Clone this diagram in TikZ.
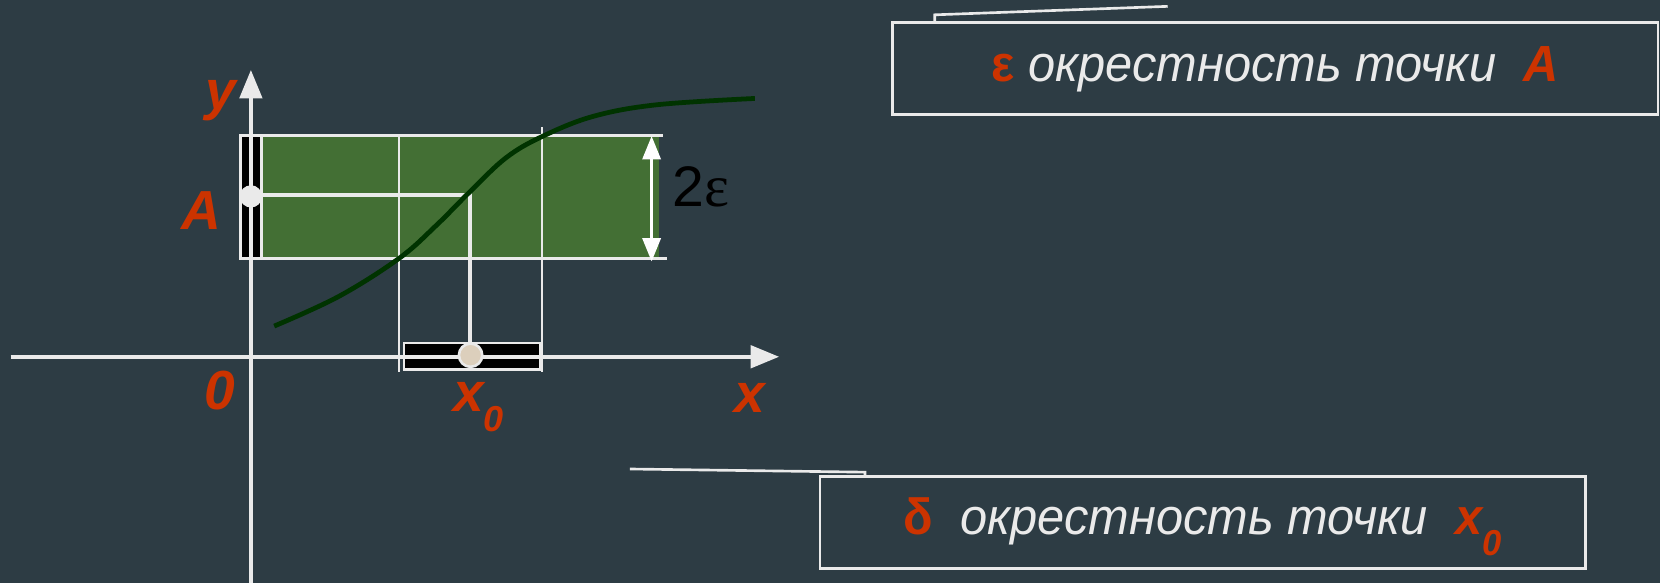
\documentclass[tikz,border=0pt]{standalone}
\usepackage{fontspec}
\setmainfont{Liberation Sans}
\newfontfamily\serifgr{Liberation Serif}
\newfontfamily\narrowit[FakeStretch=0.96]{Liberation Sans}
\usetikzlibrary{arrows.meta}
\definecolor{bg}{HTML}{2D3C44}
\definecolor{grn}{HTML}{436F34}
\definecolor{crv}{HTML}{003300}
\definecolor{lt}{HTML}{EAEAEA}
\definecolor{red}{HTML}{CC3300}
\definecolor{dotc}{HTML}{DCCFBC}
\tikzset{
  wline/.style={draw=lt, line width=2.5pt},
  axis/.style={draw=lt, line width=4pt, -{Triangle[length=27pt,width=21pt]}},
  lbl/.style={text=red, font=\fontsize{52}{54}\selectfont\bfseries\itshape, inner sep=0pt, anchor=base},
  callout/.style={draw=lt, line width=2.5pt, minimum width=723pt, minimum height=87pt, inner sep=0pt,
     font=\narrowit\fontsize{48}{50}\selectfont\itshape, text=lt},
  lead/.style={draw=lt, line width=2.5pt},
}
\begin{document}
\begin{tikzpicture}[x=1pt,y=-1pt]
\fill[bg] (0,0) rectangle (1568,551);
\useasboundingbox (0,0) rectangle (1568,551);
% green band
\fill[grn] (246,128) rectangle (622,244);
% black bar on y axis
\draw[wline, fill=black] (227,128) rectangle (247,244);
\draw[wline] (244,128) -- (626,128);
\draw[wline] (244,244) -- (630,244);
% vertical delta lines
\draw[wline] (377,128) -- (377,351);
\draw[wline] (512,120) -- (512,351);
% black bar on x axis
\draw[wline, fill=black] (381.5,324) rectangle (510,349);
% axes
\coordinate (xs) at (10,337);
\coordinate (xe) at (736,337);
\coordinate (ys) at (237,551);
\coordinate (ye) at (237,66);
\draw[axis] (xs) -- (xe);
\draw[axis] (ys) -- (ye);
% projection lines
\coordinate (pa) at (237,184);
\coordinate (pc) at (440,184);
\coordinate (pt) at (444,181);
\coordinate (px) at (444,336);
\draw[draw=lt, line width=3.8pt] (pa) -- (pc);
\draw[draw=lt, line width=3.8pt] (pt) -- (px);
% curve
\draw[crv, line width=4.5pt] plot[smooth, tension=0.6] coordinates {(259,308) (320,280) (377,244) (412,213) (444,181) (478,149) (512,129) (560,110) (620,99) (713,93)};
% dots
\node[circle, fill=lt, minimum size=21pt, inner sep=0pt] (dA) at (237,185.5) {};
\node[circle, fill=dotc, draw=lt, line width=2.5pt, minimum size=22pt, inner sep=0pt] (dX) at (444.5,335.5) {};
% double arrow 2eps
\coordinate (da1) at (615.5,128.5);
\coordinate (da2) at (615.5,247);
\draw[draw=white, line width=3pt, {Triangle[length=22pt,width=17pt]}-{Triangle[length=22pt,width=17pt]}] (da1) -- (da2);
\node[anchor=base west, inner sep=0pt, font=\fontsize{54}{56}\selectfont] (eps2) at (635,195) {2{\serifgr\fontsize{56}{58}\selectfont ε}};
% labels
\node[lbl] (ly) at (209,103) {y};
\node[lbl] (lA) at (190.5,216.5) {A};
\node[lbl] (l0) at (207.5,386.5) {0};
\node[lbl, anchor=base west] (lx0) at (428,389) {x\raisebox{-19pt}{\fontsize{34}{36}\selectfont 0}};
\node[lbl] (lx) at (708,390) {x};
% callouts
\node[callout] (c1) at (1204.5,64.5) {\raisebox{-12.5pt}[0pt][0pt]{\textcolor{red}{\upshape\bfseries ε} окрестность точки\ \ \textcolor{red}{\bfseries\fontsize{48}{50}\selectfont A}}};
\node[callout] (c2) at (1136,493.5) {\raisebox{-11.8pt}[0pt][0pt]{\textcolor{red}{\upshape\bfseries δ}\ \ окрестность точки\ \ \textcolor{red}{\bfseries\fontsize{48}{50}\selectfont x\raisebox{-19pt}{\fontsize{34}{36}\selectfont 0}}}};
% leaders
\coordinate (k1) at (883,21);
\coordinate (l1) at (1103,6);
\draw[lead] (k1) -- ++(0,-7) -- (l1);
\coordinate (k2) at (817,450);
\coordinate (l2) at (595,443);
\draw[lead] (k2) -- ++(0,-4) -- (l2);
\end{tikzpicture}
\end{document}
